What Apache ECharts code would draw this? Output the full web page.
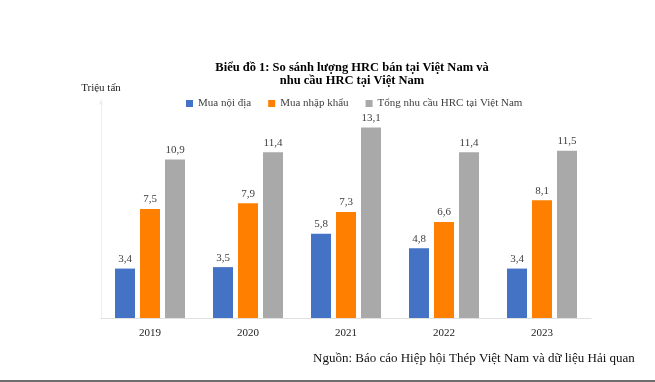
<!DOCTYPE html>
<html><head><meta charset="utf-8">
<script src="https://cdn.jsdelivr.net/npm/echarts@6/dist/echarts.min.js"></script>
<style>html,body{margin:0;padding:0;background:#fff}#c{width:655px;height:382px}</style>
</head><body><div id="c"></div>
<script>
const categories = ['2019','2020','2021','2022','2023'];
const muaNoiDia = [3.4, 3.5, 5.8, 4.8, 3.4];
const muaNhapKhau = [7.5, 7.9, 7.3, 6.6, 8.1];
const tongNhuCau = [10.9, 11.4, 13.1, 11.4, 11.5];
const seriesNames = ['Mua nội địa', 'Mua nhập khẩu', 'Tổng nhu cầu HRC tại Việt Nam'];
const colors = ['#4472C4', '#FF8000', '#A9A9A9'];
const FONT = '"Liberation Serif","Times New Roman",serif';

const chart = echarts.init(document.getElementById('c'), null, {renderer:'canvas'});
const lbl = {show:true, position:'top', distance:4, fontFamily:FONT, fontSize:11, color:'#404040',
  formatter: p => String(p.value).replace('.', ',')};
const mk = (name, data, i) => ({
  name, type:'bar', data, barWidth:20, barGap:'25%',
  itemStyle:{color:colors[i]}, label:lbl, emphasis:{disabled:true}
});
chart.setOption({
  animation:false,
  title:{text:'Biểu đồ 1: So sánh lượng HRC bán tại Việt Nam và\nnhu cầu HRC tại Việt Nam',
    left:347, top:56, textAlign:'center',
    textStyle:{fontFamily:FONT, fontSize:12.5, fontWeight:'bold', color:'#000', lineHeight:13.5}},
  legend:{data:seriesNames, left:181, top:93, itemWidth:7, itemHeight:7, itemGap:17,
    icon:'rect', textStyle:{fontFamily:FONT, fontSize:11, color:'#404040'}},
  grid:{left:101, right:64, top:100, bottom:64, containLabel:false},
  xAxis:{type:'category', data:categories,
    axisLine:{lineStyle:{color:'#e0e0e0'}}, axisTick:{show:false},
    axisLabel:{fontFamily:FONT, fontSize:11, color:'#222', margin:10}},
  yAxis:{type:'value', min:0, max:15, interval:5, name:'Triệu tấn',
    nameLocation:'end', nameGap:6, nameTextStyle:{fontFamily:FONT, fontSize:11, color:'#222', align:'center'},
    axisLine:{show:true, symbol:['none','arrow'], symbolSize:[4,5], lineStyle:{color:'#eeeeee'}},
    axisTick:{show:false}, axisLabel:{show:false}, splitLine:{show:false}},
  series:[mk(seriesNames[0], muaNoiDia, 0), mk(seriesNames[1], muaNhapKhau, 1), mk(seriesNames[2], tongNhuCau, 2)],
  graphic:[
    {type:'text', left:313, top:352, style:{text:'Nguồn: Báo cáo Hiệp hội Thép Việt Nam và dữ liệu Hải quan',
      font:'13px "Liberation Serif","Times New Roman",serif', fill:'#111'}},
    {type:'rect', left:0, top:380, shape:{width:655, height:2}, style:{fill:'#6e6e6e'}}
  ]
});
</script></body></html>
